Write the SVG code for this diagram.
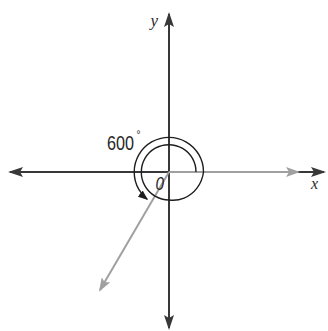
<svg xmlns="http://www.w3.org/2000/svg" width="328" height="331" viewBox="0 0 328 331">
  <style>
    .axis { stroke: #383838; stroke-width: 2; fill: none; }
    .ray { stroke: #a0a0a0; stroke-width: 2; fill: none; }
    .spiral { stroke: #1e1e1e; stroke-width: 1.4; fill: none; }
    .num { font-family: "Liberation Sans", Arial, sans-serif; fill: #262626; }
    .var { font-family: "Liberation Serif", "Times New Roman", serif; font-style: italic; fill: #2a2a2a; }
  </style>
  <defs>
    <marker id="axArrow" viewBox="0 0 15 10" refX="13" refY="5" markerWidth="15" markerHeight="10" markerUnits="userSpaceOnUse" orient="auto-start-reverse">
      <path d="M0,0 L15,5 L0,10 L3,5 z" fill="#383838"/>
    </marker>
    <marker id="grayArrow" viewBox="0 0 14 10" refX="12" refY="5" markerWidth="14" markerHeight="10" markerUnits="userSpaceOnUse" orient="auto">
      <path d="M0,0 L14,5 L0,10 L3,5 z" fill="#a0a0a0"/>
    </marker>
    <marker id="angArrow" viewBox="0 0 10 8" refX="9" refY="4" markerWidth="10" markerHeight="8" markerUnits="userSpaceOnUse" orient="auto">
      <path d="M0,0 L10,4 L0,8 z" fill="#1e1e1e"/>
    </marker>
  </defs>

  <g id="axes">
    <line id="x-axis" class="axis" x1="10" y1="172" x2="324" y2="172" marker-start="url(#axArrow)" marker-end="url(#axArrow)"/>
    <line id="y-axis" class="axis" x1="169" y1="14" x2="169" y2="328" marker-start="url(#axArrow)" marker-end="url(#axArrow)"/>
  </g>

  <g id="rays">
    <line id="initial-side" class="ray" x1="169" y1="172" x2="298" y2="172" marker-end="url(#grayArrow)"/>
    <line id="terminal-side" class="ray" x1="169" y1="172" x2="100" y2="290" marker-end="url(#grayArrow)"/>
  </g>

  <g id="angle">
    <path class="spiral" marker-end="url(#angArrow)" d="M196,172
      A27 27 0 0 0 192.47,158.45
      A27.2 27.2 0 0 0 182.6,148.44
      A27.3 27.3 0 0 0 169,144.7
      A27.4 27.4 0 0 0 155.25,148.18
      A27.6 27.6 0 0 0 145.1,158.2
      A27.7 27.7 0 0 0 141.3,172
      A27.8 27.8 0 0 0 144.93,185.9
      A27.9 27.9 0 0 0 155.05,196.16
      A28 28 0 0 0 169,200
      A29.5 29.5 0 0 0 184.1,198.15
      A31.5 31.5 0 0 0 196.97,188.15
      A33.5 33.5 0 0 0 203.5,172
      A34.5 34.5 0 0 0 198.92,154.72
      A34.6 34.6 0 0 0 186.3,142.04
      A34.65 34.65 0 0 0 169,137.35
      A34.7 34.7 0 0 0 151.65,141.95
      A34.75 34.75 0 0 0 138.91,154.62
      A34.8 34.8 0 0 0 134.2,172
      A34.85 34.85 0 0 0 138.82,189.43
      A34.9 34.9 0 0 0 147.2,199.3"/>
  </g>

  <g id="labels">
    <text class="num" transform="translate(107,149.5) scale(0.83,1)" font-size="19.5">600</text>
    <text class="num" x="136.5" y="137.5" font-size="10">°</text>
    <text class="num" transform="translate(155.5,190) scale(0.8,1)" font-size="19" font-style="italic">0</text>
    <text class="var" x="311" y="188.5" font-size="16">x</text>
    <text class="var" x="150.5" y="26" font-size="17">y</text>
  </g>
</svg>
